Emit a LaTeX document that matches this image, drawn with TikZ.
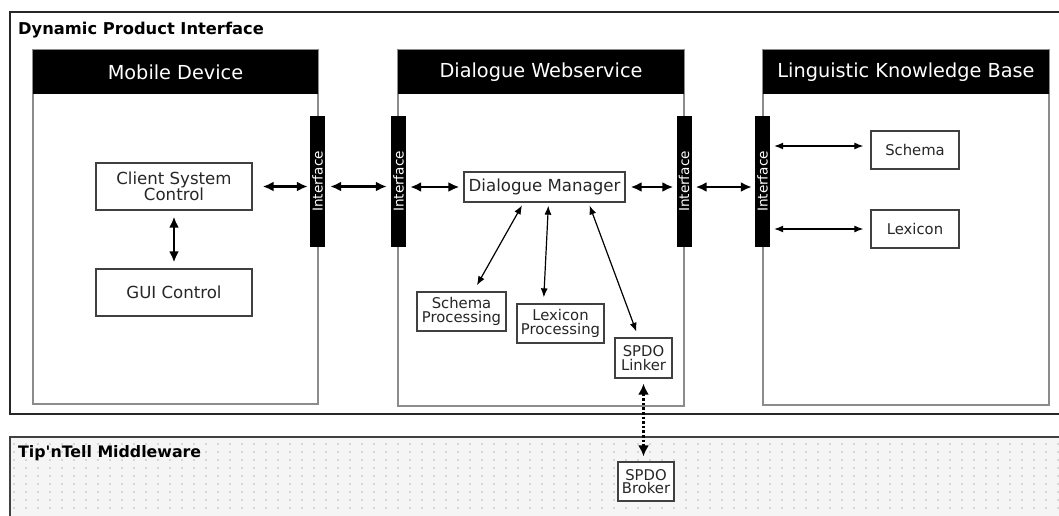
\documentclass[tikz,border=0pt]{standalone}
\usepackage{fontspec}
\setmainfont{DejaVu Sans}
\usetikzlibrary{arrows.meta}
\begin{document}
\begin{tikzpicture}[x=1pt,y=-1pt,
  panel/.style={draw=black!45,line width=1.8pt,fill=white},
  headerbar/.style={fill=black},
  headertext/.style={text=white,font=\fontsize{19.3}{22}\selectfont,inner sep=0pt},
  title/.style={font=\bfseries\fontsize{16.3}{18}\selectfont,inner sep=0pt,anchor=base west},
  iface/.style={fill=black,minimum width=15pt,minimum height=131pt,inner sep=0pt,
    font=\fontsize{13.6}{14}\selectfont},
  box/.style={draw=black!75,line width=1.3pt,fill=white,align=center,inner sep=0pt,text=black!85},
  big/.style={font=\fontsize{16.6}{17.5}\selectfont},
  small/.style={font=\fontsize{14.8}{15.5}\selectfont},
  link/.style={{Latex[length=11pt,width=10pt]}-{Latex[length=11pt,width=10pt]},line width=2.2pt},
  thinlink/.style={{Latex[length=9pt,width=7pt]}-{Latex[length=9pt,width=7pt]},line width=1.2pt},
  dottedlink/.style={{Latex[length=11pt,width=11pt]}-{Latex[length=11pt,width=11pt]},line width=2.6pt,dotted},
]
\useasboundingbox (0,0) rectangle (1059,515);
\clip (0,0) rectangle (1059,515);
\fill[white] (0,0) rectangle (1059,515);

% outer frame: Dynamic Product Interface
\draw[draw=black!85,line width=2.6pt] (10,12) rectangle (1075,414);
\node[title] (dpititle) at (18,34) {Dynamic Product Interface};

% middleware frame
\fill[black!4] (10,437) rectangle (1075,530);
\foreach \x in {14,26,...,1058} {
  \foreach \y in {444,452,...,514} {
    \fill[black!28] (\x,\y) circle (0.85);
  }
}
\draw[draw=black!75,line width=2.4pt] (10,437) rectangle (1075,530);
\node[title,font=\bfseries\fontsize{15.8}{17}\selectfont] (mwtitle) at (18,457) {Tip\textquotesingle nTell Middleware};

% panels
\draw[panel] (33,50) rectangle (318,404);
\fill[headerbar] (33,50) rectangle (318,94);
\node[headertext] (mobhead) at (175.5,72) {Mobile Device};

\draw[panel] (398,50) rectangle (684,406);
\fill[headerbar] (398,50) rectangle (684,94);
\node[headertext] (dwhead) at (541,72) {Dialogue Webservice};

\draw[panel] (763,50) rectangle (1049,405);
\fill[headerbar] (763,50) rectangle (1049,94);
\node[headertext] (lkbhead) at (906,72) {Linguistic Knowledge Base};

% interface bars
\node[iface] (if1) at (317.5,181.5) {\rotatebox{90}{\textcolor{white}{Interface}}};
\node[iface] (if2) at (398.5,181.5) {\rotatebox{90}{\textcolor{white}{Interface}}};
\node[iface] (if3) at (684,181.5) {\rotatebox{90}{\textcolor{white}{Interface}}};
\node[iface] (if4) at (762.5,181.5) {\rotatebox{90}{\textcolor{white}{Interface}}};

% boxes
\node[box,big,minimum width=156pt,minimum height=47pt] (csc) at (174,186.5) {Client System\\[-2pt]Control};
\node[box,big,minimum width=156pt,minimum height=47pt] (gui) at (174,292.5) {GUI Control};
\node[box,big,minimum width=161pt,minimum height=30pt] (dm) at (544.5,187) {Dialogue Manager};
\node[box,small,minimum width=88pt,minimum height=38pt] (schema) at (915,150) {Schema};
\node[box,small,minimum width=88pt,minimum height=38pt] (lexicon) at (915,229) {Lexicon};
\node[box,small,minimum width=89pt,minimum height=39pt] (sp) at (461.5,311.5) {Schema\\[-2pt]Processing};
\node[box,small,minimum width=87pt,minimum height=39pt] (lp) at (560.5,323.5) {Lexicon\\[-2pt]Processing};
\node[box,small,minimum width=57pt,minimum height=40pt] (linker) at (643.5,358) {SPDO\\[-2pt]Linker};
\node[box,small,minimum width=56pt,minimum height=39pt] (broker) at (646,481.5) {SPDO\\[-2pt]Broker};

% connectors
\draw[link,shorten <=10pt,shorten >=2pt] (csc.east) -- (if1.west |- csc.east);
\draw[link,shorten <=5pt,shorten >=4pt] (if1.east |- csc.east) -- (if2.west |- csc.east);
\draw[link,shorten <=4pt,shorten >=4pt] (if2.east |- dm.west) -- (dm.west);
\draw[link,shorten <=5pt,shorten >=3pt] (dm.east) -- (if3.west |- dm.east);
\draw[link,shorten <=4pt,shorten >=3pt] (if3.east |- dm.east) -- (if4.west |- dm.east);
\draw[link,shorten <=6pt,shorten >=6pt] (csc.south) -- (gui.north);
\draw[thinlink,shorten <=4pt,shorten >=7pt] ([yshift=4pt]schema.west -| if4.east) -- ([yshift=4pt]schema.west);
\draw[thinlink,shorten <=4pt,shorten >=7pt] (lexicon.west -| if4.east) -- (lexicon.west);
\draw[thinlink,shorten <=3pt,shorten >=7pt] ([xshift=-21pt]dm.south) -- ([xshift=12pt]sp.north);
\draw[thinlink,shorten <=3pt,shorten >=6pt] ([xshift=4pt]dm.south) -- ([xshift=-17pt]lp.north);
\draw[thinlink,shorten <=3pt,shorten >=6pt] ([xshift=44pt]dm.south) -- ([xshift=-5pt]linker.north);
\draw[dottedlink,shorten <=5pt,shorten >=5pt] (linker.south) -- (linker.south |- broker.north);
\end{tikzpicture}
\end{document}
